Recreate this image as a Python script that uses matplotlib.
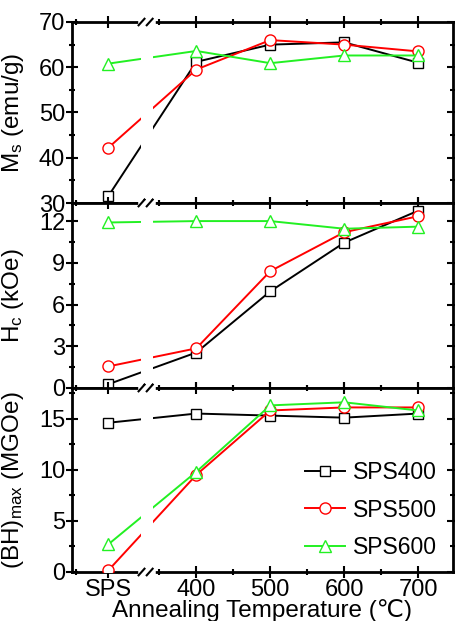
import numpy as np
import matplotlib
matplotlib.use('Agg')
import matplotlib.pyplot as plt
from matplotlib.ticker import FixedLocator, MultipleLocator

plt.rcParams['font.family'] = ['Liberation Sans', 'DejaVu Sans']
plt.rcParams['mathtext.fontset'] = 'custom'
plt.rcParams['mathtext.rm'] = 'Liberation Sans'
plt.rcParams['mathtext.it'] = 'Liberation Sans:italic'

# x categories (SPS = as-sintered, then annealing temperatures)
x_labels = ['SPS', '400', '500', '600', '700']
x_pos = [281, 400, 500, 600, 700]

# Ms (emu/g)
ms_400 = [31.5, 61.2, 65.0, 65.5, 61.0]
ms_500 = [42.2, 59.5, 66.0, 65.0, 63.5]
ms_600 = [60.8, 63.6, 60.9, 62.6, 62.6]

# Hc (kOe)
hc_400 = [0.27, 2.55, 6.95, 10.45, 12.75]
hc_500 = [1.55, 2.85, 8.4, 11.2, 12.35]
hc_600 = [11.9, 12.0, 12.0, 11.45, 11.6]

# (BH)max (MGOe)
bh_400 = [14.6, 15.5, 15.3, 15.1, 15.5]
bh_500 = [0.15, 9.5, 15.8, 16.1, 16.1]
bh_600 = [2.7, 9.8, 16.3, 16.6, 15.8]

series = ['SPS400', 'SPS500', 'SPS600']
colors = ['black', '#ff0000', '#22f022']
markers = ['s', 'o', '^']
msizes = [7, 8, 8.5]

fig = plt.figure(figsize=(4.56, 6.21), dpi=100)
L, R = 72 / 456, 453 / 456
H = 621
panels = [(22, 203), (203, 388), (388, 572)]
axes = []
for top, bot in panels:
    ax = fig.add_axes([L, 1 - bot / H, R - L, (bot - top) / H])
    axes.append(ax)

data = [(ms_400, ms_500, ms_600), (hc_400, hc_500, hc_600), (bh_400, bh_500, bh_600)]
ylims = [(30, 70), (0, 13.3), (0, 18.0)]
major = [10, 3, 5]
minor = [5, 1.5, 2.5]
ylabels = [r'M$_\mathrm{s}$ (emu/g)', r'H$_\mathrm{c}$ (kOe)', r'(BH)$_\mathrm{max}$ (MGOe)']

brk_lo, brk_hi = 325, 341
fs_tick = 17
fs_lab = 17.5

for ax, d, yl, mj, mn, lab in zip(axes, data, ylims, major, minor, ylabels):
    for vals, name, c, m, s in zip(d, series, colors, markers, msizes):
        ax.plot(x_pos, vals, color=c, lw=1.4, marker=m, ms=s, mfc='white',
                mec=c, mew=1.0, label=name, zorder=3)
    # gap in lines at the axis break
    ax.axvspan(brk_lo, brk_hi, color='white', zorder=3.5, lw=0)
    ax.set_xlim(232, 747)
    ax.set_ylim(*yl)
    ax.xaxis.set_major_locator(FixedLocator(x_pos))
    ax.xaxis.set_minor_locator(FixedLocator([238, 350, 450, 550, 650]))
    ax.yaxis.set_major_locator(MultipleLocator(mj))
    ax.yaxis.set_minor_locator(MultipleLocator(mn))
    ax.tick_params(which='both', direction='inout', top=True, right=True,
                   width=1.5, labelsize=fs_tick, pad=1)
    ax.tick_params(which='major', length=8)
    ax.tick_params(which='minor', length=5)
    for sp in ax.spines.values():
        sp.set_linewidth(2)
    ax.set_ylabel(lab, fontsize=fs_lab)
    ax.yaxis.set_label_coords(-0.122, 0.5)
    # break marks on top and bottom spines
    for yy in (0, 1):
        ax.plot([brk_lo, brk_hi], [yy, yy], color='white', lw=4,
                transform=ax.get_xaxis_transform(), clip_on=False, zorder=5)
        for xb in (brk_lo + 1, brk_hi - 4):
            ax.plot([xb - 4, xb + 4], [yy - 0.018, yy + 0.018], color='black',
                    lw=1.5, transform=ax.get_xaxis_transform(), clip_on=False, zorder=6)
    if ax is not axes[-1]:
        ax.tick_params(labelbottom=False)

axes[-1].set_xticklabels(x_labels)
axes[-1].set_xlabel('Annealing Temperature (\u2103)', fontsize=fs_lab, labelpad=-1)

leg = axes[-1].legend(loc='lower right', bbox_to_anchor=(1.0, -0.015), frameon=False,
                      fontsize=16.5, handlelength=1.75, handletextpad=0.35,
                      labelspacing=0.62, borderaxespad=0.3)

fig.savefig('out.png', dpi=100)
